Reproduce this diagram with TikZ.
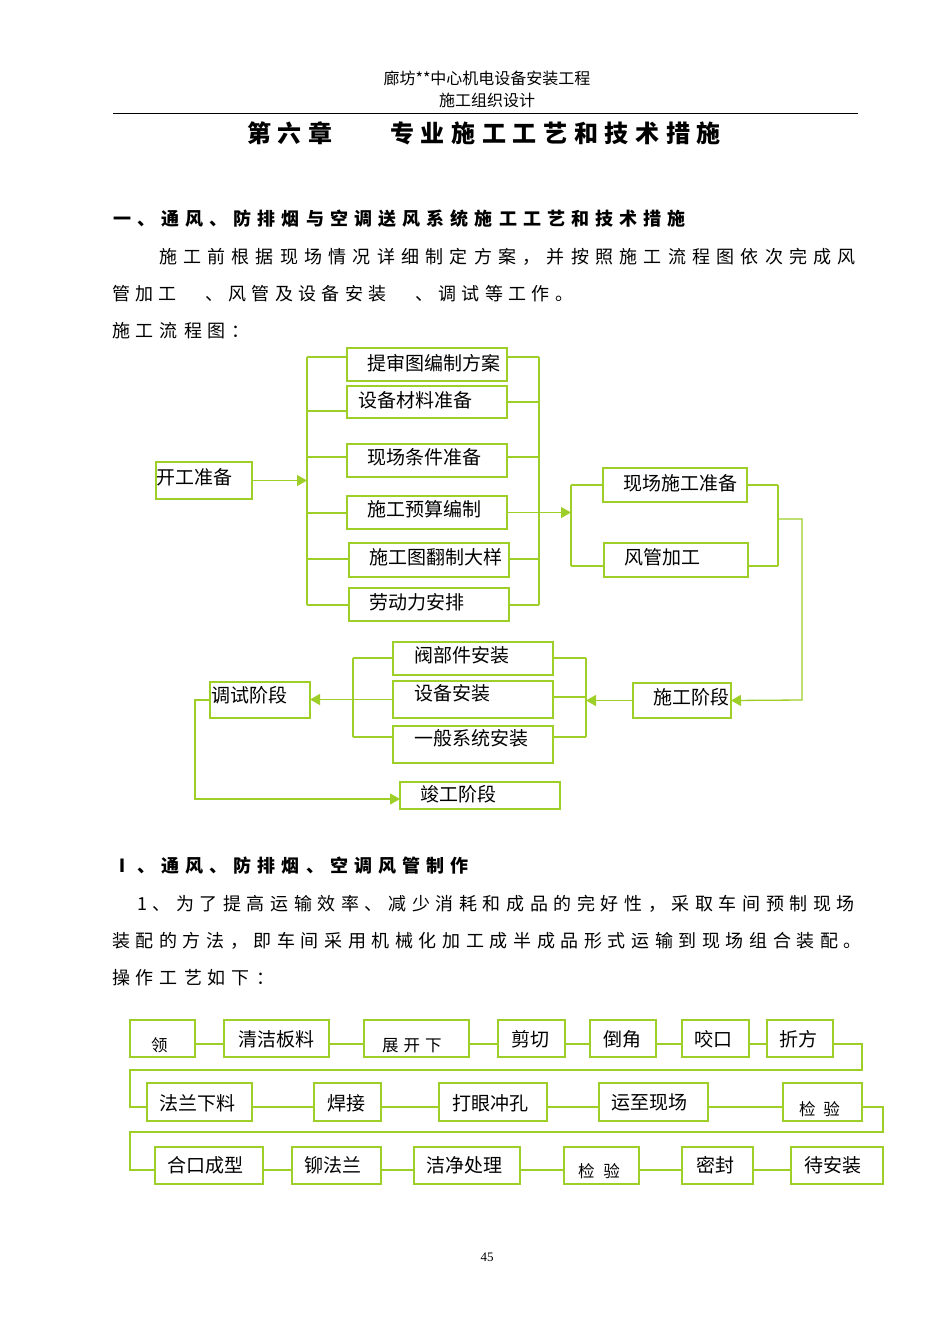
\documentclass[tikz,border=0pt]{standalone}
\usepackage{fontspec}
\setmainfont{Noto Sans CJK SC}
\newfontfamily\lserif{Liberation Serif}
\usetikzlibrary{arrows.meta,calc}
\definecolor{gline}{RGB}{158,206,40}
\ExplSyntaxOn
\NewDocumentCommand\spr{mm}{\hbox~to~#1{\tl_map_inline:nn{#2}{##1\hfil}\unskip}}
\ExplSyntaxOff
\tikzset{
  box/.style={draw=gline, line width=1.3pt, inner sep=0pt, outer sep=0pt, rectangle, font=\fontsize{19}{21}\selectfont},
  conn/.style={draw=gline, line width=1.3pt},
  arr/.style={conn, -{Triangle[length=10pt,width=11pt]}},
  txt/.style={inner sep=0pt, outer sep=0pt, anchor=base west},
}
\newcommand\mybox[8]{%
  \pgfmathsetmacro\mbw{#4-#2}%
  \pgfmathsetmacro\mbh{#5-#3}%
  \pgfmathsetmacro\mbx{(#2+#4)/2}%
  \pgfmathsetmacro\mby{(#3+#5)/2}%
  \pgfmathsetmacro\mbxo{#6-1-#2}%
  \pgfmathsetmacro\mbyo{#7+7.2-\mby}%
  \node[box,minimum width=\mbw pt,minimum height=\mbh pt] (#1) at (\mbx,\mby)
    {\makebox[\mbw pt][l]{\hspace{\mbxo pt}\raisebox{-\mbyo pt}[0pt][0pt]{#8}}};}
\newcommand\sm{\fontsize{16.5}{18}\selectfont}
\begin{document}
\begin{tikzpicture}[x=1pt,y=-1pt]
\fill[white] (0,0) rectangle (950,1344);
\useasboundingbox (0,0) rectangle (950,1344);

% header
\node[inner sep=0pt, anchor=base] (h1) at (487,84) {\fontsize{16}{18}\selectfont 廊坊**中心机电设备安装工程};
\node[inner sep=0pt, anchor=base] (h2) at (487,106) {\fontsize{16}{18}\selectfont 施工组织设计};
\draw[line width=0.9pt] (113,113) -- (858,113);
\node[txt] (t0a) at (247,142) {\fontsize{24}{26}\selectfont\bfseries\spr{86pt}{第六章}};
\node[txt] (t0b) at (390,142) {\fontsize{24}{26}\selectfont\bfseries\spr{331pt}{专业施工工艺和技术措施}};

\node[txt] (t1) at (113,225) {\fontsize{18}{20}\selectfont\bfseries\spr{573pt}{一、通风、防排烟与空调送风系统施工工艺和技术措施}};
\node[txt] (t2) at (159,263) {\fontsize{18}{20}\selectfont\spr{697pt}{施工前根据现场情况详细制定方案，并按照施工流程图依次完成风}};
\node[txt] (t3) at (112,300) {\fontsize{18}{20}\selectfont\spr{461pt}{管加工　、风管及设备安装　、调试等工作。}};
\node[txt] (t4) at (112,337) {\fontsize{18}{20}\selectfont\spr{138pt}{施工流程图：}};

\node[txt] (t5) at (113,872) {\fontsize{18}{20}\selectfont\bfseries\spr{356pt}{Ⅰ、通风、防排烟、空调风管制作}};
\node[txt] (t6) at (137,910) {\fontsize{18}{20}\selectfont\spr{718pt}{1、为了提高运输效率、减少消耗和成品的完好性，采取车间预制现场}};
\node[txt] (t7) at (112,947) {\fontsize{18}{20}\selectfont\spr{750pt}{装配的方法，即车间采用机械化加工成半成品形式运输到现场组合装配。}};
\node[txt] (t8) at (112,984) {\fontsize{18}{20}\selectfont\spr{162pt}{操作工艺如下：}};

\node[inner sep=0pt, anchor=base] (pg) at (487,1261) {\lserif\fontsize{13}{15}\selectfont 45};

% ---------- top flowchart boxes
\mybox{k0}{156}{462}{252}{499}{157}{477}{开工准备}
\mybox{a1}{347}{348}{507}{381}{368}{363}{提审图编制方案}
\mybox{a2}{347}{386}{507}{418}{359}{400}{设备材料准备}
\mybox{a3}{347}{444}{507}{477}{368}{457}{现场条件准备}
\mybox{a4}{347}{496}{507}{529}{368}{509}{施工预算编制}
\mybox{a5}{349}{543}{509}{577}{370}{557}{施工图翻制大样}
\mybox{a6}{349}{588}{509}{621}{370}{602}{劳动力安排}
\mybox{c1}{603}{468}{747}{502}{624}{483}{现场施工准备}
\mybox{c2}{604}{543}{748}{577}{625}{557}{风管加工}
\mybox{d0}{633}{683}{731}{718}{654}{697}{施工阶段}
\mybox{e1}{393}{642}{553}{675}{415}{655}{阀部件安装}
\mybox{e2}{393}{681}{553}{718}{415}{693}{设备安装}
\mybox{e3}{393}{726}{553}{763}{415}{738}{一般系统安装}
\mybox{f1}{210}{682}{310}{718}{212}{695}{调试阶段}
\mybox{g1}{400}{782}{560}{809}{421}{794}{竣工阶段}

% buses and connectors
\coordinate (L1) at (307,357); \coordinate (L2) at (307,411); \coordinate (L3) at (307,457);
\coordinate (L4) at (307,513); \coordinate (L5) at (307,559); \coordinate (L6) at (307,605);
\draw[conn] (L1) -- (L6);
\draw[arr] (k0.east) -- (k0.east -| L1);
\foreach \i/\b in {1/a1,2/a2,3/a3,4/a4,5/a5,6/a6} \draw[conn] (L\i) -- (L\i -| \b.west);
\coordinate (R1) at (539,357); \coordinate (R2) at (539,402); \coordinate (R3) at (539,457);
\coordinate (R5) at (539,559); \coordinate (R6) at (539,605);
\draw[conn] (R1) -- (R6);
\foreach \i/\b in {1/a1,2/a2,3/a3,5/a5,6/a6} \draw[conn] (\b.east |- R\i) -- (R\i);
\coordinate (M1) at (571,485); \coordinate (M2) at (571,566);
\draw[arr] (a4.east) -- (a4.east -| M1);
\draw[conn] (M1) -- (M2);
\draw[conn] (M1) -- (c1.west);
\draw[conn] (M2) -- (M2 -| c2.west);
\coordinate (N1) at (778,485); \coordinate (N2) at (778,566); \coordinate (N3) at (778,519);
\coordinate (P1) at (802,700);
\draw[conn] (N1) -- (N2);
\draw[conn] (c1.east) -- (N1);
\draw[conn] (N2 -| c2.east) -- (N2);
\draw[arr] (N3) -| (P1) -- (d0.east);
\coordinate (S1) at (586,658); \coordinate (S2) at (586,697); \coordinate (S3) at (586,737);
\draw[arr] (d0.west) -- (d0.west -| S1);
\draw[conn] (S1) -- (S3);
\draw[conn] (e1.east |- S1) -- (S1);
\draw[conn] (e2.east |- S2) -- (S2);
\draw[conn] (e3.east |- S3) -- (S3);
\coordinate (T1) at (353,658); \coordinate (T2) at (353,697); \coordinate (T3) at (353,737);
\draw[conn] (T1) -- (T3);
\draw[conn] (T1) -- (T1 -| e1.west);
\draw[conn] (T3) -- (T3 -| e3.west);
\draw[arr] (e2.west) -- (e2.west -| f1.east);
\coordinate (Q1) at (195,799);
\draw[arr] (f1.west) -| (Q1) -- (Q1 -| g1.west);

% ---------- bottom flowchart
\mybox{r1a}{130}{1020}{195}{1057}{152}{1044}{\sm 领}
\mybox{r1b}{224}{1020}{329}{1057}{239}{1039}{清洁板料}
\mybox{r1c}{364}{1020}{469}{1057}{383}{1044}{\sm 展\hspace{5pt}开\hspace{5pt}下}
\mybox{r1d}{498}{1020}{565}{1057}{512}{1039}{剪切}
\mybox{r1e}{590}{1020}{656}{1057}{604}{1039}{倒角}
\mybox{r1f}{682}{1020}{749}{1057}{695}{1039}{咬口}
\mybox{r1g}{767}{1020}{833}{1057}{780}{1039}{折方}
\mybox{r2a}{147}{1083}{252}{1121}{160}{1103}{法兰下料}
\mybox{r2b}{314}{1083}{381}{1121}{328}{1103}{焊接}
\mybox{r2c}{439}{1083}{547}{1121}{453}{1103}{打眼冲孔}
\mybox{r2d}{599}{1083}{708}{1121}{612}{1102}{运至现场}
\mybox{r2e}{783}{1083}{862}{1121}{800}{1108}{\sm 检\hspace{8pt}验}
\mybox{r3a}{155}{1147}{263}{1184}{168}{1165}{合口成型}
\mybox{r3b}{292}{1147}{381}{1184}{305}{1165}{铆法兰}
\mybox{r3c}{414}{1147}{520}{1184}{427}{1165}{洁净处理}
\mybox{r3d}{564}{1147}{639}{1184}{579}{1170}{\sm 检\hspace{9pt}验}
\mybox{r3e}{682}{1147}{753}{1184}{697}{1165}{密封}
\mybox{r3f}{791}{1147}{883}{1184}{805}{1165}{待安装}

\coordinate (y1) at (0,1044); \coordinate (y2) at (0,1107); \coordinate (y3) at (0,1170);
\foreach \a/\b in {r1a/r1b,r1b/r1c,r1c/r1d,r1d/r1e,r1e/r1f,r1f/r1g}
  \draw[conn] (\a.east |- y1) -- (\b.west |- y1);
\foreach \a/\b in {r2a/r2b,r2b/r2c,r2c/r2d,r2d/r2e}
  \draw[conn] (\a.east |- y2) -- (\b.west |- y2);
\foreach \a/\b in {r3a/r3b,r3b/r3c,r3c/r3d,r3d/r3e,r3e/r3f}
  \draw[conn] (\a.east |- y3) -- (\b.west |- y3);
\coordinate (W1r) at (862,1070); \coordinate (W1l) at (130,1070);
\coordinate (W2r) at (883,1132); \coordinate (W2l) at (130,1132);
\draw[conn] (r1g.east |- y1) -| (W1r) -- (W1l) |- (r2a.west |- y2);
\draw[conn] (r2e.east |- y2) -| (W2r) -- (W2l) |- (r3a.west |- y3);
\end{tikzpicture}
\end{document}
